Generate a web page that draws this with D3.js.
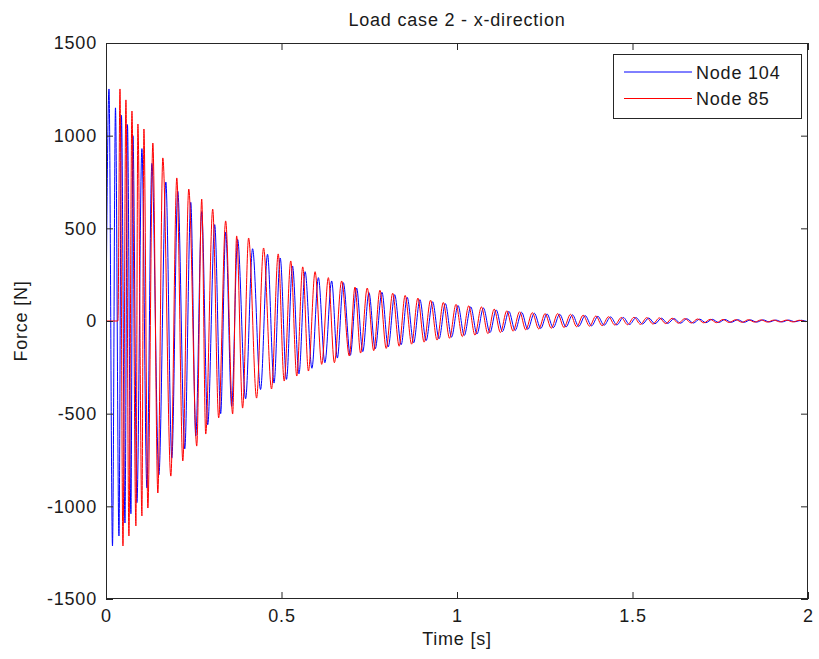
<!DOCTYPE html>
<html>
<head>
<meta charset="utf-8">
<script src="https://cdn.jsdelivr.net/npm/d3@7"></script>
<style>
  html, body { margin: 0; padding: 0; background: #fff; }
  svg { display: block; }
  text { font-family: "Liberation Sans", Arial, sans-serif; fill: #1a1a1a; letter-spacing: 0.8px; }
</style>
</head>
<body>
<svg id="chart" width="819" height="659"></svg>
<script>
// ---- Data (extrema) ----
const titleText = "Load case 2 - x-direction";
const xLabel = "Time [s]";
const yLabel = "Force [N]";
const seriesNames = ["Node 104", "Node 85"];
const xTicks = [0, 0.5, 1, 1.5, 2];
const xTickLabels = ["0", "0.5", "1", "1.5", "2"];
const yTicks = [-1500, -1000, -500, 0, 500, 1000, 1500];
const yTickLabels = ["-1500", "-1000", "-500", "0", "500", "1000", "1500"];

// Node 104 (blue): times [s] of successive peaks/troughs and their forces [N]
const node104Time = [
  0, 0.0085, 0.0185, 0.0270, 0.0369, 0.0440, 0.0540, 0.0611, 0.0710, 0.0767, 0.0881,
  0.1023, 0.1165, 0.1307, 0.1506, 0.1705, 0.1875, 0.2045, 0.2244, 0.2415, 0.2557,
  0.2727, 0.2898, 0.3097, 0.3267, 0.3409, 0.3580, 0.3750, 0.3977, 0.4176, 0.4403,
  0.4602, 0.4787, 0.4963, 0.5142, 0.5313, 0.5497, 0.5673, 0.5866, 0.6051, 0.6236,
  0.6429, 0.6591, 0.6761, 0.6960, 0.7139, 0.7315, 0.7491, 0.7670, 0.7861, 0.8040,
  0.8224, 0.8409, 0.8580, 0.8764, 0.8943, 0.9119, 0.9304, 0.9489, 0.9668, 0.9844,
  1.0028, 1.0207, 1.0392, 1.0568, 1.0753, 1.0938, 1.1116, 1.1293, 1.1477, 1.1656,
  1.1841, 1.2017, 1.2202, 1.2386, 1.2565, 1.2741, 1.2926, 1.3105, 1.3290, 1.3466,
  1.3651, 1.3835, 1.4014, 1.4190, 1.4375, 1.4554, 1.4739, 1.4915, 1.5099, 1.5284,
  1.5463, 1.5639, 1.5824, 1.6003, 1.6188, 1.6364, 1.6548, 1.6733, 1.6912, 1.7088,
  1.7273, 1.7452, 1.7636, 1.7813, 1.7997, 1.8182, 1.8361, 1.8537, 1.8722, 1.8901,
  1.9085, 1.9261, 1.9446, 1.9631, 1.9810, 1.9986
];
const node104Force = [
  0, 1252, -1214, 1150, -1160, 1110, -1090, 1060, -1040, 1000, -980,
  930, -900, 850, -830, 750, -740, 700, -690, 640, -620,
  590, -560, 520, -500, 480, -460, 440, -420, 390, -370,
  360, -335, 340, -315, 297, -285, 266, -255, 234, -225,
  216, -200, 207, -185, 178, -165, 153, -150, 155, -140,
  142, -128, 128, -118, 115, -106, 104, -96, 94, -87,
  84, -78, 76, -70, 70, -63, 60, -57, 52, -51,
  47, -45, 42, -40, 38, -36, 36, -32, 33, -29,
  29, -26, 25, -23, 22, -21, 19, -19, 18, -16,
  16, -15, 15, -13, 13, -12, 12, -11, 10, -9,
  9, -8, 8, -7, 7, -7, 6, -6, 6, -5,
  5, -5, 5, -4, 4, -4
];

// Node 85 (red)
const node85Time = [
  0, 0.0340, 0.0398, 0.0483, 0.0568, 0.0653, 0.0739, 0.0852, 0.0909, 0.1023, 0.1080,
  0.1193, 0.1335, 0.1477, 0.1619, 0.1847, 0.2017, 0.2188, 0.2358, 0.2585, 0.2727,
  0.2841, 0.3040, 0.3210, 0.3409, 0.3608, 0.3722, 0.3892, 0.4063, 0.4290, 0.4489,
  0.4716, 0.4906, 0.5077, 0.5264, 0.5435, 0.5605, 0.5767, 0.5957, 0.6145, 0.6335,
  0.6506, 0.6713, 0.6932, 0.7094, 0.7253, 0.7443, 0.7628, 0.7804, 0.7983, 0.8168,
  0.8352, 0.8523, 0.8707, 0.8886, 0.9063, 0.9247, 0.9432, 0.9611, 0.9787, 0.9972,
  1.0151, 1.0335, 1.0511, 1.0696, 1.0881, 1.1060, 1.1236, 1.1420, 1.1599, 1.1784,
  1.1960, 1.2145, 1.2330, 1.2509, 1.2685, 1.2869, 1.3048, 1.3233, 1.3409, 1.3594,
  1.3778, 1.3957, 1.4134, 1.4318, 1.4497, 1.4682, 1.4858, 1.5043, 1.5227, 1.5406,
  1.5582, 1.5767, 1.5946, 1.6131, 1.6307, 1.6491, 1.6676, 1.6855, 1.7031, 1.7216,
  1.7395, 1.7580, 1.7756, 1.7940, 1.8125, 1.8304, 1.8480, 1.8665, 1.8844, 1.9028,
  1.9205, 1.9389, 1.9574, 1.9753, 1.9929
];
const node85Force = [
  0, 0, 1252, -1214, 1193, -1160, 1133, -1106, 1063, -1052, 1036,
  -1009, 960, -928, 880, -837, 772, -755, 712, -675, 658,
  -610, 604, -523, 540, -502, 459, -470, 448, -416, 394,
  -367, 362, -324, 324, -297, 292, -270, 266, -234, 234,
  -225, 216, -189, 183, -173, 178, -160, 166, -148, 150,
  -136, 138, -125, 124, -114, 112, -103, 100, -93, 90,
  -84, 82, -76, 76, -68, 64, -62, 55, -55, 50,
  -48, 45, -43, 40, -39, 40, -35, 36, -31, 31,
  -28, 27, -25, 23, -22, 19, -20, 20, -18, 18,
  -16, 17, -14, 15, -12, 13, -11, 11, -10, 9,
  -9, 8, -8, 7, -7, 7, -6, 6, -6, 5,
  -5, 5, -5, 4, -4
];

const colors = ["#0000ff", "#ff0000"];

// ---- Layout ----
const svg = d3.select("#chart");
const L = 106, R = 808, T = 43, B = 599;
const x = d3.scaleLinear().domain([0, 2]).range([L, R]);
const y = d3.scaleLinear().domain([-1500, 1500]).range([B, T]);

svg.append("rect").attr("width", 819).attr("height", 659).attr("fill", "#fff");

svg.append("clipPath").attr("id", "clip")
  .append("rect").attr("x", L).attr("y", T).attr("width", R - L).attr("height", B - T);

const line = d3.line()
  .x(d => x(d[0])).y(d => y(d[1]))
  .curve(d3.curveMonotoneX);

const series = [
  d3.zip(node104Time, node104Force),
  d3.zip(node85Time, node85Force)
];

const plot = svg.append("g").attr("clip-path", "url(#clip)");
series.forEach((s, i) => {
  plot.append("path")
    .datum(s)
    .attr("fill", "none")
    .attr("stroke", colors[i])
    .attr("stroke-width", 1)
    .attr("d", line);
});

// axes (MATLAB style: ticks inside, box)
const tickLen = 7;
const fs = 18;
const axisG = svg.append("g");

const xAxisB = d3.axisBottom(x).tickValues(xTicks).tickFormat((d, i) => xTickLabels[i])
  .tickSizeInner(-tickLen).tickSizeOuter(0).tickPadding(10);
const xAxisT = d3.axisTop(x).tickValues(xTicks).tickFormat("")
  .tickSizeInner(-tickLen).tickSizeOuter(0);
const yAxisL = d3.axisLeft(y).tickValues(yTicks).tickFormat((d, i) => yTickLabels[i])
  .tickSizeInner(-tickLen).tickSizeOuter(0).tickPadding(9);
const yAxisR = d3.axisRight(y).tickValues(yTicks).tickFormat("")
  .tickSizeInner(-tickLen).tickSizeOuter(0);

function styleAxis(g) {
  g.select(".domain").remove();
  g.selectAll(".tick line").attr("stroke", "#262626");
  g.selectAll(".tick text").attr("font-size", fs).attr("fill", "#1a1a1a")
    .attr("font-family", '"Liberation Sans", Arial, sans-serif');
}
axisG.append("g").attr("transform", `translate(0,${B})`).call(xAxisB).call(styleAxis);
axisG.append("g").attr("transform", `translate(0,${T})`).call(xAxisT).call(styleAxis);
axisG.append("g").attr("transform", `translate(${L},0)`).call(yAxisL).call(styleAxis);
axisG.append("g").attr("transform", `translate(${R},0)`).call(yAxisR).call(styleAxis);

svg.append("rect")
  .attr("x", L + 0.5).attr("y", T + 0.5)
  .attr("width", R - L - 1).attr("height", B - T - 1)
  .attr("fill", "none").attr("stroke", "#262626").attr("stroke-width", 1);

// title and labels
svg.append("text").attr("x", (L + R) / 2).attr("y", 26)
  .attr("text-anchor", "middle").attr("font-size", fs).text(titleText);
svg.append("text").attr("x", (L + R) / 2).attr("y", 645)
  .attr("text-anchor", "middle").attr("font-size", fs).text(xLabel);
svg.append("text").attr("transform", `translate(27,${(T + B) / 2}) rotate(-90)`)
  .attr("text-anchor", "middle").attr("font-size", fs).text(yLabel);

// legend
const lg = svg.append("g").attr("transform", "translate(613,54)");
lg.append("rect").attr("x", 0.5).attr("y", 0.5).attr("width", 188).attr("height", 64)
  .attr("fill", "#fff").attr("stroke", "#262626");
seriesNames.forEach((name, i) => {
  const yy = 18 + i * 26.5;
  lg.append("line").attr("x1", 11).attr("x2", 79).attr("y1", yy).attr("y2", yy)
    .attr("stroke", colors[i]).attr("stroke-width", 1);
  lg.append("text").attr("x", 83).attr("y", yy + 6.5).attr("font-size", fs).text(name);
});
</script>
</body>
</html>
